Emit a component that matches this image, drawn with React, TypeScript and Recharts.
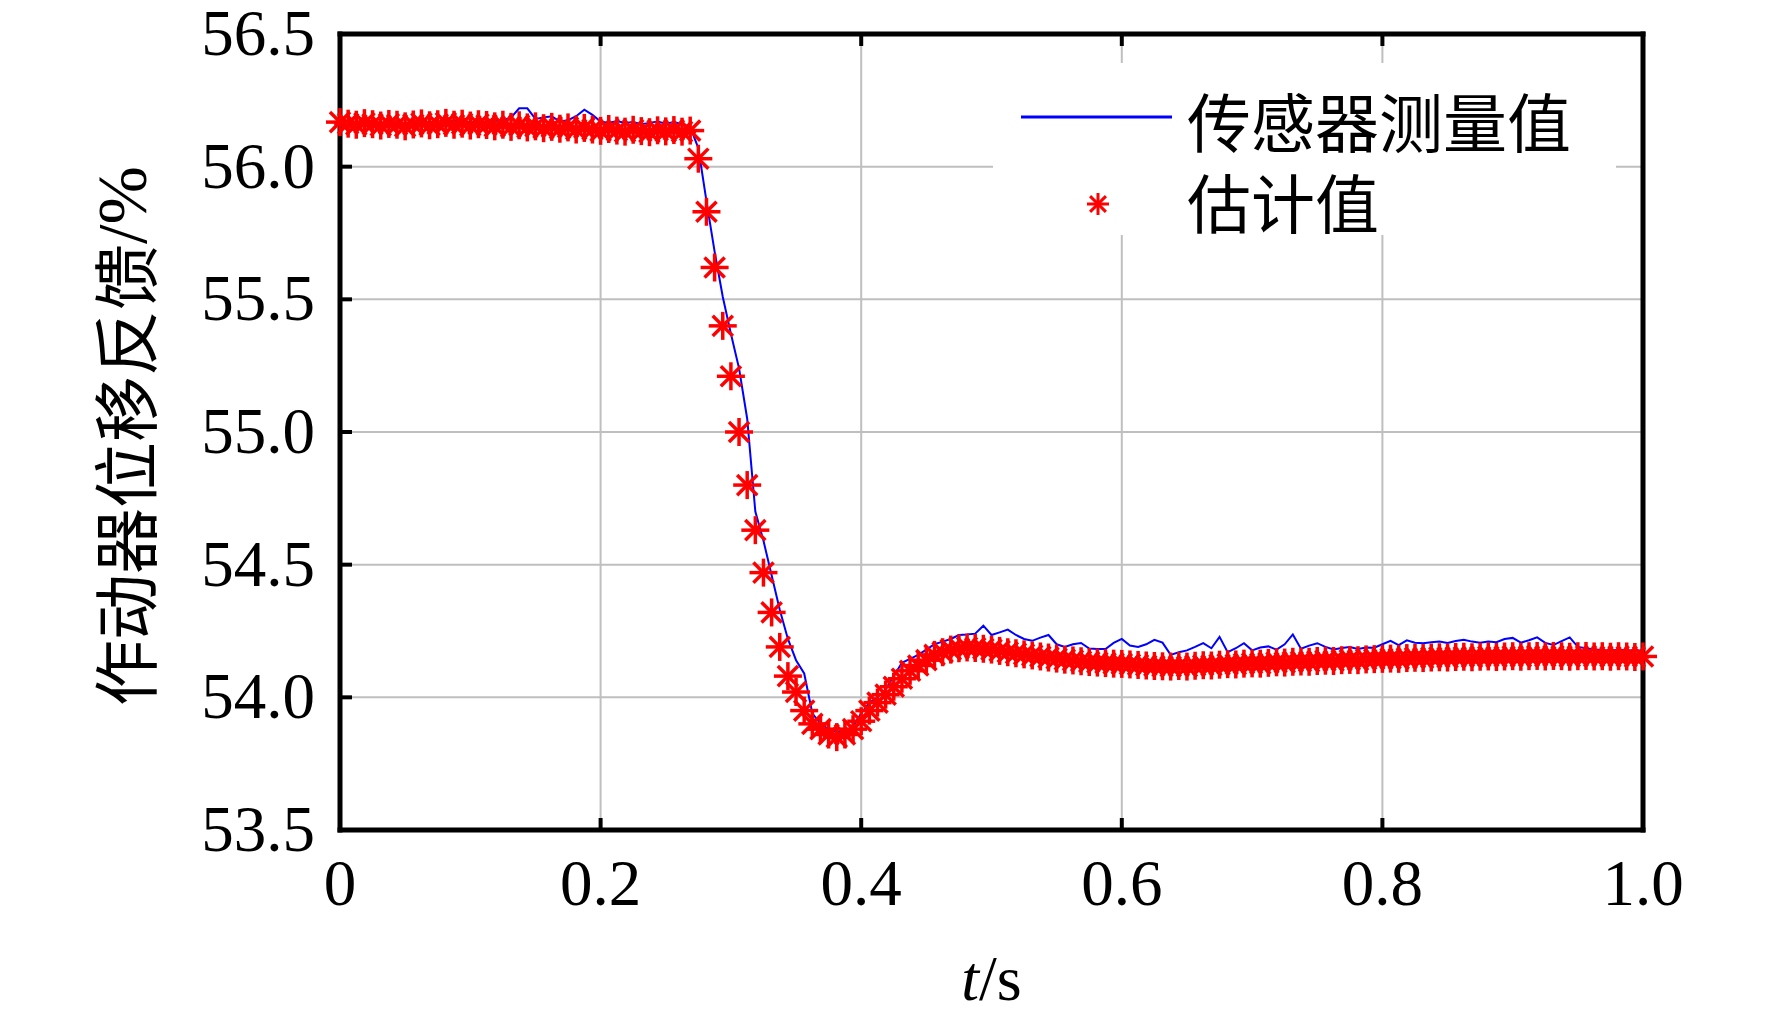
import React from 'react';
import { LineChart, Line, XAxis, YAxis, CartesianGrid, Legend } from 'recharts';

// sample times (s)
const T = [
  0, 0.00625, 0.0125, 0.01875, 0.025, 0.03125, 0.0375, 0.04375, 0.05, 0.05625,
  0.0625, 0.06875, 0.075, 0.08125, 0.0875, 0.09375, 0.1, 0.10625, 0.1125, 0.11875,
  0.125, 0.13125, 0.1375, 0.14375, 0.15, 0.15625, 0.1625, 0.16875, 0.175, 0.18125,
  0.1875, 0.19375, 0.2, 0.20625, 0.2125, 0.21875, 0.225, 0.23125, 0.2375, 0.24375,
  0.25, 0.25625, 0.2625, 0.26875, 0.275, 0.28125, 0.2875, 0.29375, 0.3, 0.30625,
  0.3125, 0.31875, 0.325, 0.33125, 0.3375, 0.34375, 0.35, 0.35625, 0.3625, 0.36875,
  0.375, 0.38125, 0.3875, 0.39375, 0.4, 0.40625, 0.4125, 0.41875, 0.425, 0.43125,
  0.4375, 0.44375, 0.45, 0.45625, 0.4625, 0.46875, 0.475, 0.48125, 0.4875, 0.49375,
  0.5, 0.50625, 0.5125, 0.51875, 0.525, 0.53125, 0.5375, 0.54375, 0.55, 0.55625,
  0.5625, 0.56875, 0.575, 0.58125, 0.5875, 0.59375, 0.6, 0.60625, 0.6125, 0.61875,
  0.625, 0.63125, 0.6375, 0.64375, 0.65, 0.65625, 0.6625, 0.66875, 0.675, 0.68125,
  0.6875, 0.69375, 0.7, 0.70625, 0.7125, 0.71875, 0.725, 0.73125, 0.7375, 0.74375,
  0.75, 0.75625, 0.7625, 0.76875, 0.775, 0.78125, 0.7875, 0.79375, 0.8, 0.80625,
  0.8125, 0.81875, 0.825, 0.83125, 0.8375, 0.84375, 0.85, 0.85625, 0.8625, 0.86875,
  0.875, 0.88125, 0.8875, 0.89375, 0.9, 0.90625, 0.9125, 0.91875, 0.925, 0.93125,
  0.9375, 0.94375, 0.95, 0.95625, 0.9625, 0.96875, 0.975, 0.98125, 0.9875, 0.99375,
  1,
];

// 传感器测量值
const SENSOR = [
  56.160, 56.165, 56.158, 56.162, 56.170, 56.160, 56.165, 56.172, 56.160, 56.168,
  56.165, 56.170, 56.162, 56.168, 56.175, 56.165, 56.170, 56.162, 56.168, 56.172,
  56.175, 56.185, 56.220, 56.220, 56.180, 56.185, 56.190, 56.170, 56.175, 56.190,
  56.215, 56.195, 56.170, 56.165, 56.172, 56.165, 56.168, 56.160, 56.165, 56.170,
  56.162, 56.168, 56.160, 56.150, 56.07, 55.87, 55.68, 55.51, 55.37, 55.24,
  55.05, 54.70, 54.59, 54.46, 54.33, 54.22, 54.14, 54.09, 53.94, 53.90,
  53.88, 53.87, 53.87, 53.89, 53.94, 53.98, 54.00, 54.03, 54.08, 54.13,
  54.145, 54.16, 54.18, 54.20, 54.21, 54.22, 54.235, 54.237, 54.24, 54.27,
  54.235, 54.245, 54.255, 54.235, 54.22, 54.213, 54.225, 54.235, 54.20, 54.19,
  54.20, 54.205, 54.184, 54.182, 54.182, 54.205, 54.220, 54.195, 54.190, 54.200,
  54.217, 54.206, 54.160, 54.170, 54.177, 54.190, 54.204, 54.185, 54.228, 54.170,
  54.185, 54.204, 54.177, 54.188, 54.192, 54.180, 54.200, 54.237, 54.183, 54.195,
  54.204, 54.190, 54.180, 54.186, 54.190, 54.182, 54.188, 54.187, 54.200, 54.213,
  54.197, 54.215, 54.206, 54.204, 54.208, 54.210, 54.205, 54.212, 54.217, 54.210,
  54.206, 54.210, 54.208, 54.220, 54.224, 54.206, 54.215, 54.226, 54.205, 54.197,
  54.212, 54.226, 54.190, 54.185, 54.180, 54.178, 54.175, 54.180, 54.176, 54.178,
  54.175,
];

// 估计值
const ESTIMATE = [
  56.168, 56.162, 56.158, 56.164, 56.160, 56.155, 56.161, 56.158, 56.152, 56.159,
  56.163, 56.156, 56.160, 56.165, 56.158, 56.162, 56.155, 56.160, 56.157, 56.152,
  56.158, 56.150, 56.156, 56.148, 56.152, 56.145, 56.150, 56.143, 56.148, 56.140,
  56.146, 56.140, 56.135, 56.142, 56.136, 56.132, 56.139, 56.134, 56.130, 56.137,
  56.133, 56.138, 56.132, 56.136, 56.03, 55.83, 55.62, 55.40, 55.21, 55.00,
  54.80, 54.63, 54.47, 54.32, 54.19, 54.08, 54.02, 53.95, 53.90, 53.88,
  53.86, 53.85, 53.86, 53.88, 53.91, 53.95, 53.98, 54.01, 54.04, 54.07,
  54.10, 54.12, 54.14, 54.16, 54.17, 54.18, 54.185, 54.188, 54.186, 54.183,
  54.180, 54.175, 54.170, 54.166, 54.162, 54.158, 54.154, 54.150, 54.146, 54.142,
  54.139, 54.136, 54.133, 54.131, 54.129, 54.127, 54.126, 54.124, 54.122, 54.120,
  54.118, 54.117, 54.116, 54.118, 54.116, 54.119, 54.121, 54.120, 54.123, 54.125,
  54.124, 54.127, 54.128, 54.127, 54.130, 54.132, 54.131, 54.134, 54.135, 54.134,
  54.137, 54.138, 54.137, 54.140, 54.141, 54.140, 54.143, 54.144, 54.145, 54.146,
  54.145, 54.148, 54.149, 54.148, 54.150, 54.151, 54.150, 54.152, 54.153, 54.151,
  54.153, 54.154, 54.152, 54.154, 54.155, 54.153, 54.155, 54.156, 54.154, 54.156,
  54.155, 54.153, 54.155, 54.156, 54.154, 54.155, 54.153, 54.155, 54.154, 54.152,
  54.154,
];

const X_TICKS = [0, 0.2, 0.4, 0.6, 0.8, 1];
const X_TICK_LABELS = ['0', '0.2', '0.4', '0.6', '0.8', '1.0'];
const Y_TICKS = [53.5, 54, 54.5, 55, 55.5, 56, 56.5];

const data = T.map((t, i) => ({ t, sensor: SENSOR[i], estimate: ESTIMATE[i] }));

const SERIF = "'Liberation Serif', 'Times New Roman', serif";
const CJK = "'Noto Sans CJK SC', sans-serif";
const TICK_LEN = 12;

const Asterisk = ({ cx, cy, r = 14, w = 3.5 }: { cx: number; cy: number; r?: number; w?: number }) => {
  const d = r * 0.72;
  return (
    <g stroke="#ff0000" strokeWidth={w}>
      <line x1={cx - r} y1={cy} x2={cx + r} y2={cy} />
      <line x1={cx} y1={cy - r} x2={cx} y2={cy + r} />
      <line x1={cx - d} y1={cy - d} x2={cx + d} y2={cy + d} />
      <line x1={cx - d} y1={cy + d} x2={cx + d} y2={cy - d} />
    </g>
  );
};

const LeftTick = (props: any) => {
  const { x, y, payload } = props;
  return (
    <g>
      <line x1={x} x2={x + TICK_LEN} y1={y} y2={y} stroke="#000" strokeWidth={4} />
      <text x={x - 25} y={y + 21} textAnchor="end" fontFamily={SERIF} fontSize={65} fill="#000">
        {Number(payload.value).toFixed(1)}
      </text>
    </g>
  );
};

const RightTick = (props: any) => {
  const { x, y } = props;
  return <line x1={x} x2={x - TICK_LEN} y1={y} y2={y} stroke="#000" strokeWidth={4} />;
};

const BottomTick = (props: any) => {
  const { x, y, payload } = props;
  const idx = X_TICKS.indexOf(payload.value);
  return (
    <g>
      <line x1={x} x2={x} y1={y} y2={y - TICK_LEN} stroke="#000" strokeWidth={4} />
      <text x={x} y={y + 75} textAnchor="middle" fontFamily={SERIF} fontSize={65} fill="#000">
        {idx >= 0 ? X_TICK_LABELS[idx] : payload.value}
      </text>
    </g>
  );
};

const TopTick = (props: any) => {
  const { x, y } = props;
  return <line x1={x} x2={x} y1={y} y2={y + TICK_LEN} stroke="#000" strokeWidth={4} />;
};

const XTitle = (props: any) => {
  const { x, y, width } = props.viewBox;
  return (
    <text x={x + width / 2} y={y + 170} textAnchor="middle" fontFamily={SERIF} fontSize={64} fill="#000">
      <tspan fontStyle="italic">t</tspan>
      <tspan>/s</tspan>
    </text>
  );
};

const YTitle = (props: any) => {
  const { y, height } = props.viewBox;
  const cx = 122;
  const cy = y + height / 2 + 4;
  return (
    <text
      x={cx}
      y={cy}
      transform={`rotate(-90 ${cx} ${cy})`}
      textAnchor="middle"
      dominantBaseline="central"
      fontSize={66}
      fill="#000"
    >
      <tspan fontFamily={CJK}>作动器位移反馈</tspan>
      <tspan fontFamily={SERIF} fontSize={70}>/%</tspan>
    </text>
  );
};

const LegendBox = () => (
  <svg width={623} height={172} style={{ display: 'block', background: '#fff', overflow: 'visible' }}>
    <line x1={28} x2={179} y1={54} y2={54} stroke="#0000ff" strokeWidth={3} />
    <text x={194} y={56} dominantBaseline="central" fontFamily={CJK} fontSize={64} fill="#000">
      传感器测量值
    </text>
    <Asterisk cx={105} cy={141} r={11} w={3} />
    <text x={194} y={137} dominantBaseline="central" fontFamily={CJK} fontSize={64} fill="#000">
      估计值
    </text>
  </svg>
);

const frame = { stroke: '#000', strokeWidth: 5, strokeLinecap: 'square' as const };

export default function App() {
  return (
    <div style={{ position: 'absolute', left: 0, top: 0, width: 1772, height: 1020, background: '#fff' }}>
      <LineChart width={1772} height={1020} data={data} margin={{ top: 33, right: 128, bottom: 130, left: 240 }}>
        <CartesianGrid stroke="#bfbfbf" strokeWidth={2} />
        <XAxis
          dataKey="t"
          type="number"
          domain={[0, 1]}
          ticks={X_TICKS}
          height={60}
          axisLine={frame}
          tickLine={false}
          tickSize={0}
          tickMargin={0}
          tick={<BottomTick />}
          interval={0}
          label={<XTitle />}
        />
        <XAxis
          xAxisId="top"
          dataKey="t"
          type="number"
          orientation="top"
          domain={[0, 1]}
          ticks={X_TICKS}
          height={1}
          axisLine={frame}
          tickLine={false}
          tickSize={0}
          tickMargin={0}
          tick={<TopTick />}
          interval={0}
        />
        <YAxis
          type="number"
          domain={[53.5, 56.5]}
          ticks={Y_TICKS}
          width={100}
          axisLine={frame}
          tickLine={false}
          tickSize={0}
          tickMargin={0}
          tick={<LeftTick />}
          interval={0}
          label={<YTitle />}
        />
        <YAxis
          yAxisId="right"
          type="number"
          orientation="right"
          domain={[53.5, 56.5]}
          ticks={Y_TICKS}
          width={1}
          axisLine={frame}
          tickLine={false}
          tickSize={0}
          tickMargin={0}
          tick={<RightTick />}
          interval={0}
        />
        <Line
          dataKey="sensor"
          type="linear"
          stroke="#0000ff"
          strokeWidth={2}
          dot={false}
          isAnimationActive={false}
        />
        <Line
          dataKey="estimate"
          type="linear"
          stroke="none"
          strokeWidth={0}
          dot={(p: any) => <Asterisk key={`e-${p.index}`} cx={p.cx} cy={p.cy} />}
          isAnimationActive={false}
        />
        <Legend
          layout="horizontal"
          verticalAlign="middle"
          align="center"
          wrapperStyle={{ position: 'absolute', left: 993, top: 63, width: 623, height: 172 }}
          content={() => <LegendBox />}
        />
      </LineChart>
    </div>
  );
}
